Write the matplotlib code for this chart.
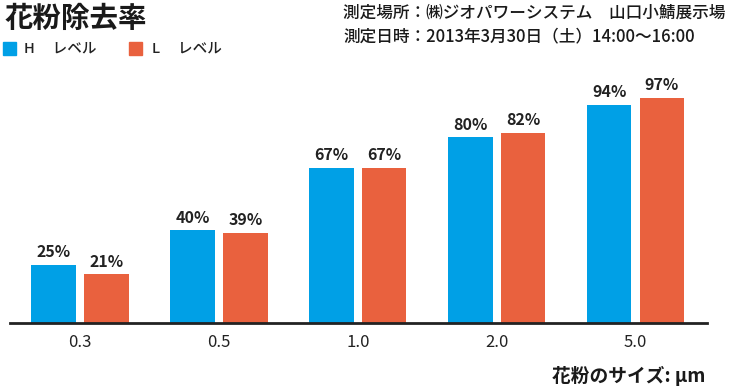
import matplotlib
matplotlib.use("Agg")
import matplotlib.pyplot as plt
import numpy as np

plt.rcParams['font.family'] = ['Noto Sans CJK JP', 'DejaVu Sans']

categories = ["0.3", "0.5", "1.0", "2.0", "5.0"]
h_level = [25, 40, 67, 80, 94]
l_level = [21, 39, 67, 82, 97]
series_names = ["H\u3000 レベル", "L\u3000 レベル"]
title = "花粉除去率"
info_lines = ["測定場所：㈱ジオパワーシステム\u3000山口小鯖展示場",
              "測定日時：2013年3月30日（土）14:00〜16:00"]
xlabel = "花粉のサイズ: μm"

blue = "#00A0E6"
orange = "#E9613E"

fig = plt.figure(figsize=(7.30, 3.89), dpi=100)
ax = fig.add_axes([10/730, 66/389, 697/730, 232/389])

x = np.arange(len(categories))
w = 0.32
off = 0.19
ax.bar(x - off, h_level, w, color=blue)
ax.bar(x + off, l_level, w, color=orange)

for xi, v in zip(x - off, h_level):
    ax.text(xi, v + 2, f"{v}%", ha="center", va="bottom", fontsize=11.5, fontweight="bold", color="#222222")
for xi, v in zip(x + off, l_level):
    ax.text(xi, v + 2, f"{v}%", ha="center", va="bottom", fontsize=11.5, fontweight="bold", color="#222222")

ax.set_xlim(-0.504, 4.514)
ax.set_ylim(0, 100)
ax.set_xticks(x)
ax.set_xticklabels(categories, fontsize=12, color="#222222")
ax.tick_params(axis="x", length=0, pad=8)
ax.set_yticks([])
for s in ["top", "right", "left"]:
    ax.spines[s].set_visible(False)
ax.spines["bottom"].set_linewidth(2)
ax.spines["bottom"].set_color("#222222")

fig.text(5/730, 1 - 19/389, title, fontsize=20.5, fontweight="bold", va="center", ha="left", color="#1a1a1a")

# legend
fig.patches.append(plt.Rectangle((3/730, 1 - 55/389), 13/730, 13/389, transform=fig.transFigure, color=blue))
fig.text(24/730, 1 - 48.5/389, series_names[0], fontsize=10.5, fontweight="medium", va="center", ha="left", color="#222222")
fig.patches.append(plt.Rectangle((129/730, 1 - 55/389), 13/730, 13/389, transform=fig.transFigure, color=orange))
fig.text(152/730, 1 - 48.5/389, series_names[1], fontsize=10.5, fontweight="medium", va="center", ha="left", color="#222222")

fig.text(343/730, 1 - 12.5/389, info_lines[0], fontsize=12, fontweight="medium", va="center", ha="left", color="#1a1a1a")
fig.text(343/730, 1 - 36.5/389, info_lines[1], fontsize=12, fontweight="medium", va="center", ha="left", color="#1a1a1a")

fig.text(705/730, 1 - 376/389, xlabel, fontsize=13.5, fontweight="bold", va="center", ha="right", color="#1a1a1a")

fig.savefig("out.png", dpi=100)
